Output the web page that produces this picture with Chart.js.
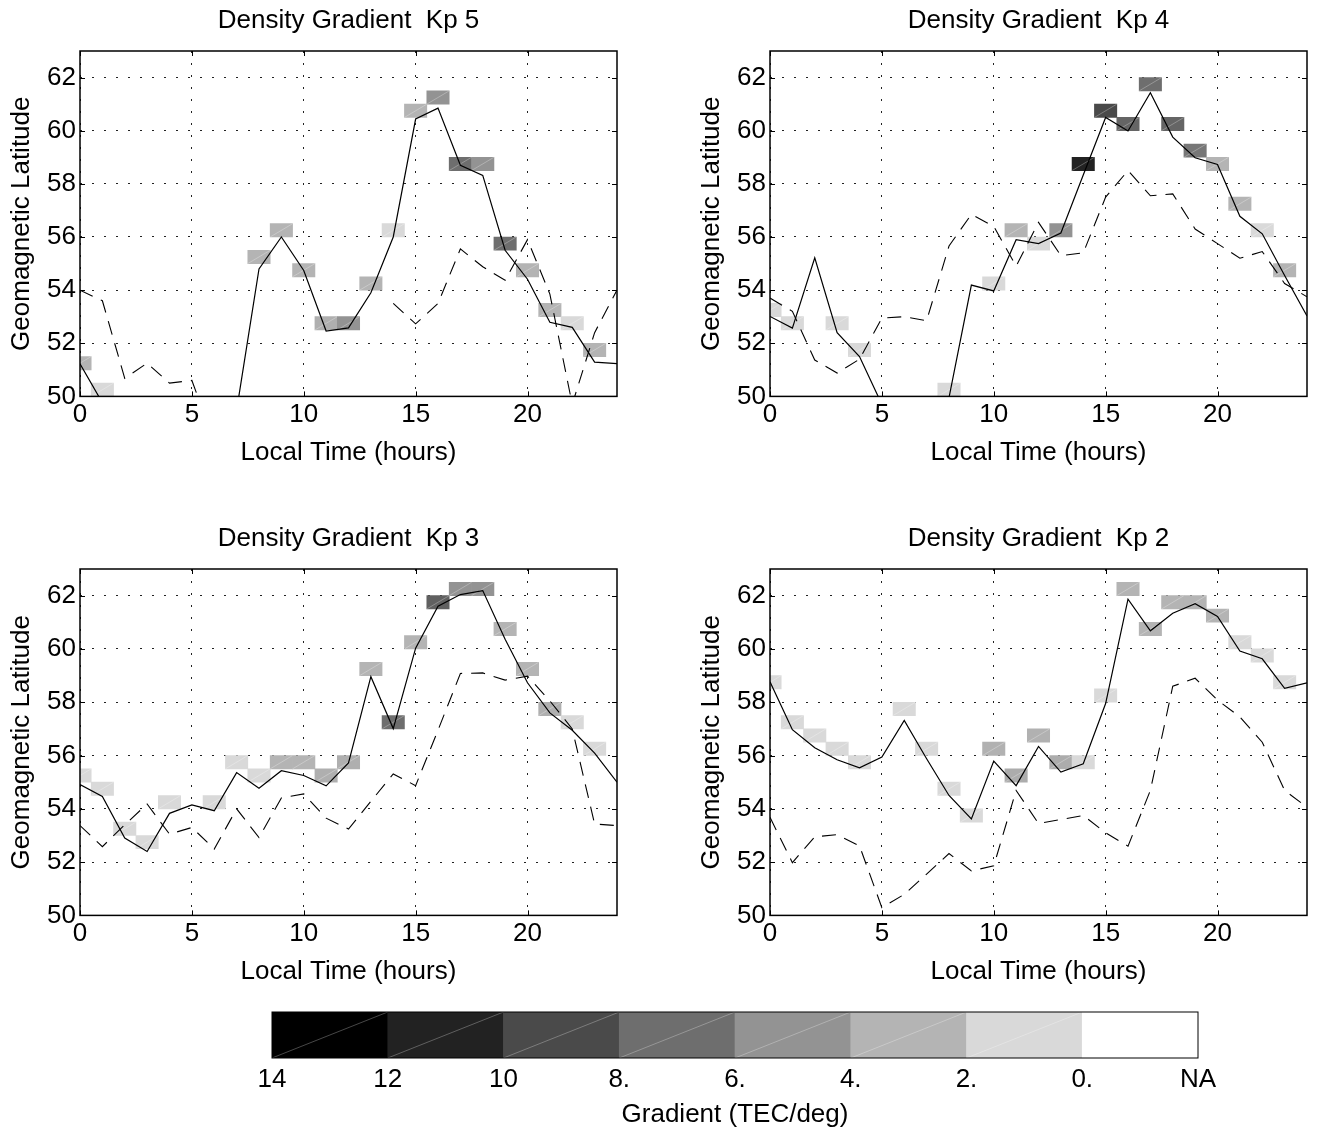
<!DOCTYPE html>
<html>
<head>
<meta charset="utf-8">
<script src="https://cdn.jsdelivr.net/npm/chart.js@4.4.1/dist/chart.umd.min.js"></script>
<style>
html, body { margin: 0; padding: 0; background: #fff; width: 1317px; height: 1130px; overflow: hidden; }
canvas { position: absolute; }
</style>
</head>
<body>
<canvas id="c1"></canvas>
<canvas id="c2"></canvas>
<canvas id="c3"></canvas>
<canvas id="c4"></canvas>
<canvas id="cb"></canvas>
<script>
// ---------------- DATA ----------------
const hours = [0,1,2,3,4,5,6,7,8,9,10,11,12,13,14,15,16,17,18,19,20,21,22,23,24];
const xTicks = [0,5,10,15,20];
const yTicks = [50,52,54,56,58,60,62];

const titles = ['Density Gradient  Kp 5','Density Gradient  Kp 4','Density Gradient  Kp 3','Density Gradient  Kp 2'];

// Kp 5
const kp5Solid  = [51.23,49.76,null,null,null,null,null,49.48,54.8,56.0,54.74,52.46,52.58,53.9,56.0,60.44,60.85,58.7,58.32,55.5,54.41,52.79,52.6,51.29,51.23];
const kp5Dashed = [54.0,53.6,50.68,51.25,50.5,50.6,48.3,null,null,null,null,null,null,null,53.5,52.73,53.5,55.55,54.88,54.37,55.9,53.85,49.7,52.4,54.0];
const kp5CellLat  = [51.0,50.0,null,null,null,null,null,49.5,55.0,56.0,54.5,52.5,52.5,54.0,56.0,60.5,61.0,58.5,58.5,55.5,54.5,53.0,52.5,51.5];
const kp5CellGrad = [3,1,null,null,null,null,null,1,3,3,3,3.3,5,3,1,3,5,7,5,7,3,3,1,3];

// Kp 4
const kp4Solid  = [53.01,52.57,55.22,52.4,51.5,49.7,null,null,49.95,54.19,53.97,55.9,55.75,56.15,58.33,60.5,59.99,61.43,59.76,58.98,58.73,56.78,56.12,54.55,53.03];
const kp4Dashed = [53.7,53.2,51.37,50.88,51.4,52.95,53.0,52.85,55.66,56.85,56.4,54.9,56.55,55.3,55.4,57.5,58.5,57.55,57.62,56.3,55.75,55.2,55.45,54.25,53.75];
const kp4CellLat  = [53.0,52.5,null,52.5,51.5,49.5,null,null,50.0,null,54.0,56.0,55.5,56.0,58.5,60.5,60.0,61.5,60.0,59.0,58.5,57.0,56.0,54.5];
const kp4CellGrad = [1,1,null,1,1,1,null,null,1,null,1,3,1,5,11,9,7.5,7,7.5,6.5,3,3,1,3];

// Kp 3
const kp3Solid  = [54.91,54.46,52.9,52.4,53.83,54.15,53.93,55.36,54.77,55.43,55.25,54.86,55.72,58.96,57.01,60.03,61.6,62.04,62.19,60.36,58.73,57.6,56.95,56.09,55.0];
const kp3Dashed = [53.37,52.58,53.4,54.18,53.05,53.3,52.49,54.0,52.92,54.41,54.56,53.65,53.24,54.28,55.31,54.87,56.95,59.08,59.1,58.83,58.98,58.05,57.0,53.43,53.37];
const kp3CellLat  = [55.0,54.5,53.0,52.5,54.0,null,54.0,55.5,55.0,55.5,55.5,55.0,55.5,59.0,57.0,60.0,61.5,62.0,62.0,60.5,59.0,57.5,57.0,56.0];
const kp3CellGrad = [1,1,1,1,1,null,1,1,1,3,3,3.3,3.3,3,7,3,7.8,5,5,3,3,3.3,1,1];

// Kp 2
const kp2Solid  = [58.77,56.97,56.29,55.84,55.54,55.94,57.32,55.88,54.5,53.62,55.79,54.87,56.34,55.38,55.69,57.95,61.87,60.68,61.34,61.7,61.22,59.92,59.63,58.52,58.73];
const kp2Dashed = [53.68,51.98,52.95,53.03,52.61,50.29,50.79,51.55,52.32,51.67,51.86,54.69,53.45,53.6,53.75,53.1,52.6,54.69,58.6,58.9,58.08,57.45,56.5,54.69,54.06];
const kp2CellLat  = [58.5,57.0,56.5,56.0,55.5,null,57.5,56.0,54.5,53.5,56.0,55.0,56.5,55.5,55.5,58.0,62.0,60.5,61.5,61.5,61.0,60.0,59.5,58.5];
const kp2CellGrad = [1,1,1,1,1,null,1,1,1,1,3.2,3.5,3.2,3.5,1,1,3,3,3,3,3,1,1,1];

// Colour bar
const colorbarColors = ['#000000','#222222','#4a4a4a','#6e6e6e','#939393','#b4b4b4','#d9d9d9','#ffffff'];
const colorbarLabels = ['14','12','10','8.','6.','4.','2.','0.','NA'];
const colorbarSlots  = [0.5,1.5,2.5,3.5,4.5,5.5,6.5,7.5];
const colorbarTicks  = [0,1,2,3,4,5,6,7,8];
// gradient value at the centre of each colour-bar band (dark -> light)
const bandCentres = [13,11,9,7,5,3,1];

// ---------------- STYLE / LAYOUT ----------------
const FONT = "'Liberation Sans', Arial, Helvetica, sans-serif";
const FS = 26;
const LH = FS * 1.2;
const CELL_H = 0.5;
const X_AXIS_H = 56 + LH / 2;

Chart.defaults.color = '#000';
Chart.defaults.font.family = FONT;
Chart.defaults.font.size = FS;

function hexToGray(h) { return parseInt(h.slice(1, 3), 16); }
function gradColor(g) {
  const grays = colorbarColors.slice(0, 7).map(hexToGray);
  if (g >= bandCentres[0]) return colorbarColors[0];
  if (g <= bandCentres[6]) return colorbarColors[6];
  for (let i = 0; i < 6; i++) {
    const a = bandCentres[i], b = bandCentres[i + 1];
    if (g <= a && g >= b) {
      const t = (a - g) / (a - b);
      const v = Math.round(grays[i] + t * (grays[i + 1] - grays[i]));
      return 'rgb(' + v + ',' + v + ',' + v + ')';
    }
  }
  return '#fff';
}

const framePlugin = {
  id: 'frame',
  afterDatasetDraw(chart, args) {
    const meta = args.meta;
    if (meta.type !== 'bar') return;
    const ctx = chart.ctx, a = chart.chartArea;
    ctx.save();
    ctx.beginPath();
    ctx.rect(a.left, a.top, a.right - a.left, a.bottom - a.top);
    ctx.clip();
    ctx.strokeStyle = 'rgba(255,255,255,0.4)';
    ctx.lineWidth = 0.7;
    meta.data.forEach(el => {
      const p = el.getProps(['x', 'y', 'base', 'width'], true);
      const l = p.x - p.width / 2, r = p.x + p.width / 2;
      const t = Math.min(p.y, p.base), b = Math.max(p.y, p.base);
      ctx.beginPath();
      ctx.moveTo(l, b);
      ctx.lineTo(r, t);
      ctx.stroke();
    });
    ctx.restore();
  },
  afterDraw(chart, args, opts) {
    const ctx = chart.ctx, a = chart.chartArea;
    ctx.save();
    ctx.strokeStyle = '#000';
    if (opts.ticks) {
      const L = 5;
      ctx.lineWidth = 1;
      ctx.beginPath();
      const sx = chart.scales.x, sy = chart.scales.y;
      sx.ticks.forEach(t => {
        const px = Math.round(sx.getPixelForValue(t.value)) + 0.5;
        ctx.moveTo(px, a.bottom); ctx.lineTo(px, a.bottom - L);
        ctx.moveTo(px, a.top); ctx.lineTo(px, a.top + L);
      });
      sy.ticks.forEach(t => {
        const py = Math.round(sy.getPixelForValue(t.value)) + 0.5;
        ctx.moveTo(a.left, py); ctx.lineTo(a.left + L, py);
        ctx.moveTo(a.right, py); ctx.lineTo(a.right - L, py);
      });
      ctx.stroke();
    }
    ctx.lineWidth = opts.lineWidth || 1;
    ctx.strokeRect(a.left, a.top, a.right - a.left, a.bottom - a.top);
    ctx.restore();
  }
};

function setupCanvas(id, left, top, w, h) {
  const c = document.getElementById(id);
  c.width = w; c.height = h;
  c.style.left = left + 'px'; c.style.top = top + 'px';
  c.style.width = w + 'px'; c.style.height = h + 'px';
  return c;
}

function makePanel(id, left, top, w, h, padRight, title, solid, dashed, cellLat, cellGrad) {
  const c = setupCanvas(id, left, top, w, h);
  const cells = [], cellColors = [];
  for (let i = 0; i < cellLat.length; i++) {
    if (cellLat[i] === null) continue;
    cells.push({ x: hours[i], y: [cellLat[i], cellLat[i] + CELL_H] });
    cellColors.push(gradColor(cellGrad[i]));
  }
  const tPadTop = 21 - LH / 2;
  const tPadBot = 51 - tPadTop - LH;
  return new Chart(c, {
    type: 'line',
    data: {
      datasets: [
        { type: 'line', data: hours.map((x, i) => ({ x: x, y: solid[i] })), borderColor: '#000', borderWidth: 1.2, pointRadius: 0, tension: 0, spanGaps: false, fill: false },
        { type: 'line', data: hours.map((x, i) => ({ x: x, y: dashed[i] })), borderColor: '#000', borderWidth: 1.1, borderDash: [14, 9], pointRadius: 0, tension: 0, spanGaps: false, fill: false },
        { type: 'bar', data: cells, backgroundColor: cellColors, borderWidth: 0, barPercentage: 1, categoryPercentage: 1, grouped: false }
      ]
    },
    options: {
      responsive: false,
      animation: false,
      events: [],
      layout: { padding: { left: 0, right: padRight, top: 0, bottom: 0 } },
      plugins: {
        legend: { display: false },
        tooltip: { enabled: false },
        title: { display: true, fullSize: false, text: title, color: '#000', font: { size: FS, weight: 'normal', family: FONT }, padding: { top: tPadTop, bottom: tPadBot } },
        frame: { ticks: true, lineWidth: 1.5 }
      },
      scales: {
        x: {
          type: 'linear', min: 0, max: 24, offset: false,
          afterBuildTicks: s => { s.ticks = xTicks.map(v => ({ value: v })); },
          afterFit: s => { s.height = X_AXIS_H; },
          ticks: { padding: 18 - LH / 2, maxRotation: 0, autoSkip: false, font: { size: FS } },
          grid: { color: '#222', lineWidth: 1, drawTicks: false, offset: false },
          border: { display: false, dash: [2, 10] },
          title: { display: true, text: 'Local Time (hours)', font: { size: FS }, padding: { top: 0, bottom: 0 } }
        },
        y: {
          type: 'linear', min: 50, max: 63,
          afterBuildTicks: s => { s.ticks = yTicks.map(v => ({ value: v })); },
          afterFit: s => { s.width = 80; },
          ticks: { padding: 4, autoSkip: false, font: { size: FS } },
          grid: { color: '#222', lineWidth: 1, drawTicks: false },
          border: { display: false, dash: [2, 10] },
          title: { display: true, text: 'Geomagnetic Latitude', font: { size: FS }, padding: { top: 22 - LH / 2, bottom: 0 } }
        }
      }
    },
    plugins: [framePlugin]
  });
}

makePanel('c1', 0,   0,   640, Math.round(396 + X_AXIS_H), 23, titles[0], kp5Solid, kp5Dashed, kp5CellLat, kp5CellGrad);
makePanel('c2', 690, 0,   627, Math.round(396 + X_AXIS_H), 10, titles[1], kp4Solid, kp4Dashed, kp4CellLat, kp4CellGrad);
makePanel('c3', 0,   518, 640, Math.round(397 + X_AXIS_H), 23, titles[2], kp3Solid, kp3Dashed, kp3CellLat, kp3CellGrad);
makePanel('c4', 690, 518, 627, Math.round(397 + X_AXIS_H), 10, titles[3], kp2Solid, kp2Dashed, kp2CellLat, kp2CellGrad);

// Colour bar
(function () {
  const c = setupCanvas('cb', 200, 990, 1060, 140);
  new Chart(c, {
    type: 'bar',
    data: {
      datasets: [{
        data: colorbarSlots.map(x => ({ x: x, y: [0, 1] })),
        backgroundColor: colorbarColors, borderWidth: 0, barPercentage: 1, categoryPercentage: 1, grouped: false
      }]
    },
    options: {
      responsive: false,
      animation: false,
      events: [],
      layout: { padding: { left: 72, right: 62, top: 22, bottom: 0 } },
      plugins: { legend: { display: false }, tooltip: { enabled: false }, frame: { ticks: false, lineWidth: 1 } },
      scales: {
        x: {
          type: 'linear', min: 0, max: 8, offset: false,
          afterBuildTicks: s => { s.ticks = colorbarTicks.map(v => ({ value: v })); },
          afterFit: s => { s.height = 72; },
          ticks: { padding: 22 - LH / 2, maxRotation: 0, autoSkip: false, font: { size: FS }, callback: (v, i) => colorbarLabels[i] },
          grid: { display: false, drawTicks: false, offset: false },
          border: { display: false },
          title: { display: true, text: 'Gradient (TEC/deg)', font: { size: FS }, padding: { top: 0, bottom: 0 } }
        },
        y: { display: false, min: 0, max: 1 }
      }
    },
    plugins: [framePlugin]
  });
})();
</script>
</body>
</html>
